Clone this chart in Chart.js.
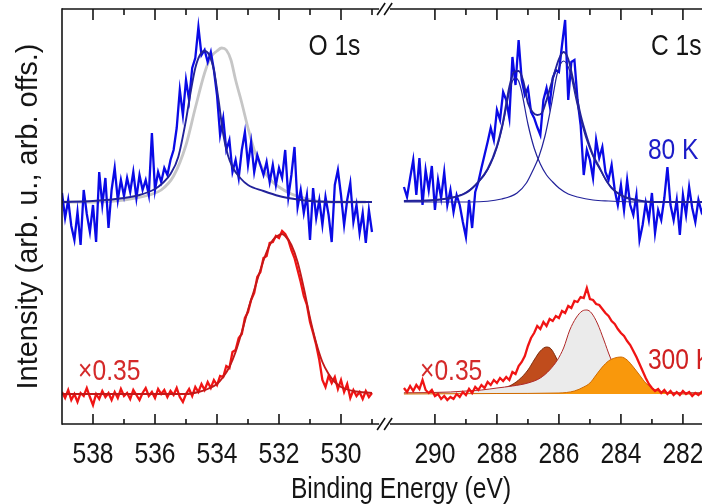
<!DOCTYPE html>
<html>
<head>
<meta charset="utf-8">
<script src="https://cdn.jsdelivr.net/npm/chart.js@4.4.1/dist/chart.umd.min.js"></script>
<style>
  html, body { margin: 0; padding: 0; background: #ffffff; overflow: hidden; }
  #wrap { width: 702px; height: 504px; overflow: hidden; position: relative; }
  canvas { display: block; }
</style>
</head>
<body>
<div id="wrap"><canvas id="c" width="740" height="504" style="width:740px;height:504px"></canvas></div>
<script>
// ---------------- DATA (binding energy in eV, intensity in arb. u. incl. offsets) ----------------
const o1sE = [539.0,538.9,538.8,538.7,538.6,538.5,538.4,538.3,538.2,538.1,
  538.0,537.9,537.8,537.7,537.6,537.5,537.4,537.3,537.2,537.1,
  537.0,536.9,536.8,536.7,536.6,536.5,536.4,536.3,536.2,536.1,
  536.0,535.9,535.8,535.7,535.6,535.5,535.4,535.3,535.2,535.1,
  535.0,534.9,534.8,534.7,534.6,534.5,534.4,534.3,534.2,534.1,
  534.0,533.9,533.8,533.7,533.6,533.5,533.4,533.3,533.2,533.1,
  533.0,532.9,532.8,532.7,532.6,532.5,532.4,532.3,532.2,532.1,
  532.0,531.9,531.8,531.7,531.6,531.5,531.4,531.3,531.2,531.1,
  531.0,530.9,530.8,530.7,530.6,530.5,530.4,530.3,530.2,530.1,
  530.0,529.9,529.8,529.7,529.6,529.5,529.4,529.3,529.2,529.1,529.0];
const o1s80K = [231,206,224,198,184,212,179,234,210,192,
  219,182,252,219,246,196,234,256,224,244,
  228,246,232,252,226,249,234,244,229,291,
  234,252,242,256,249,264,274,296,334,309,
  344,324,356,366,397,369,374,362,372,354,
  329,289,306,274,284,252,264,246,274,292,
  259,282,252,269,259,249,262,242,259,239,
  256,246,274,227,249,277,217,234,211,229,
  184,236,206,224,199,227,209,182,239,254,
  229,199,224,241,202,219,191,211,181,214,192];
const o1s300K = [32,26,34,24,30,22,31,28,36,27,
  19,30,25,33,27,31,24,32,26,35,
  28,31,25,34,29,24,31,36,28,32,
  26,35,30,34,27,33,29,36,27,22,
  30,35,28,37,32,40,34,42,36,44,
  39,48,47,58,56,72,74,86,90,106,
  112,124,131,147,152,166,168,181,182,188,
  186,193,190,184,174,166,154,142,128,119,
  102,91,79,64,44,37,48,41,47,35,
  44,32,40,26,34,28,32,25,33,27,31];
const o1sFit80E = [539,538,537,536.5,536,535.75,535.5,535.25,535.0,534.85,534.7,534.55,534.4,534.25,534.1,533.95,533.8,533.65,533.5,533.25,533.0,532.5,532,531.5,531,530,529];
const o1sFit80  = [222,223,226,229,235,241,250,267,304,332,356,369,373,369,354,324,290,269,257,246,239,233,228,225,223,222,222];
const o1sRefE = [539,538,537,536.2,535.8,535.4,535.0,534.7,534.4,534.2,534.0,533.85,533.7,533.55,533.4,533.2,533.0,532.8,532.6,532.3,532.0,531.6,531.2,530.8,530,529.2];
const o1sRef  = [222,222,224,229,234,248,279,316,351,367,373,376,374,364,344,321,296,274,259,245,237,230,226,223,222,222];
const o1sFit300E = [539,535,534.6,534.3,534.0,533.8,533.6,533.4,533.2,533.0,532.8,532.6,532.4,532.2,532.0,531.9,531.8,531.6,531.4,531.2,531.0,530.8,530.6,530.4,530.2,530.0,529.6,529.0];
const o1sFit300  = [30,30,32,35,40,47,57,72,92,114,134,154,172,184,189,190,188,179,162,136,106,81,62,50,42,37,33,31];

const c1sE = [291.0,290.9,290.8,290.7,290.6,290.5,290.4,290.3,290.2,290.1,
  290.0,289.9,289.8,289.7,289.6,289.5,289.4,289.3,289.2,289.1,
  289.0,288.9,288.8,288.7,288.6,288.5,288.4,288.3,288.2,288.1,
  288.0,287.9,287.8,287.7,287.6,287.5,287.4,287.3,287.2,287.1,
  287.0,286.9,286.8,286.7,286.6,286.5,286.4,286.3,286.2,286.1,
  286.0,285.9,285.8,285.7,285.6,285.5,285.4,285.3,285.2,285.1,
  285.0,284.9,284.8,284.7,284.6,284.5,284.4,284.3,284.2,284.1,
  284.0,283.9,283.8,283.7,283.6,283.5,283.4,283.3,283.2,283.1,
  283.0,282.9,282.8,282.7,282.6,282.5,282.4,282.3,282.2,282.1,
  282.0,281.9,281.8,281.7,281.6,281.5,281.4,281.3];
const c1s80K = [237,227,246,264,229,266,219,254,234,258,
  214,244,226,252,219,234,212,229,219,202,
  187,224,196,232,242,256,269,282,296,284,
  314,304,332,324,306,367,339,384,344,329,
  336,312,306,297,289,324,336,319,346,354,
  352,379,404,324,362,364,324,299,249,274,
  264,246,284,266,277,252,244,259,234,219,
  239,214,244,219,209,229,184,199,221,204,
  231,191,214,204,226,257,219,204,224,189,
  229,209,237,216,202,224,212,219];
const c1s300K = [36,32,38,33,39,35,44,34,31,34,
  28,30,25,28,24,27,25,30,27,32,
  29,35,31,37,34,39,36,42,39,44,
  41,46,43,47,44,52,50,58,62,68,
  78,86,91,98,95,102,98,105,103,108,
  106,113,111,118,116,123,122,127,126,136,
  125,124,120,119,115,111,108,103,100,95,
  91,88,83,79,73,67,60,53,46,40,
  36,33,35,31,34,30,33,29,32,29,
  33,30,32,28,31,29,32,30];
const c1sCompAE = [291.0,290.4,289.9,289.4,289.1,288.8,288.6,288.4,288.2,288.0,287.8,287.6,287.5,287.4,287.3,287.2,287.0,286.8,286.6,286.4,286.2,286.0,285.7,285.4,284.9,284.4,283.4,281.3];
const c1sCompA  = [223,223,224,227,230,236,242,249,260,276,300,332,343,346,343,332,300,276,260,249,242,236,230,227,224,223,222,222];
const c1sCompBE = [291.0,288.85,287.85,287.35,287.05,286.85,286.65,286.45,286.25,286.05,285.85,285.65,285.45,285.25,285.05,284.85,284.65,284.45,284.15,283.85,283.35,282.85,281.3];
const c1sCompB  = [222,222,225,231,241,253,267,288,318,351,363,353,325,299,279,264,253,242,232,226,223,222,222];
const c1sSumE = [291.0,290.0,289.5,289.0,288.6,288.3,288.0,287.8,287.6,287.45,287.3,287.15,287.0,286.85,286.7,286.55,286.4,286.2,286.0,285.85,285.7,285.5,285.3,285.1,284.9,284.7,284.5,284.3,284.0,283.5,283.0,282.0,281.3];
const c1sSum  = [223,224,226,231,242,255,278,303,337,352,353,343,321,312,309,311,324,345,365,372,365,338,309,287,269,257,245,236,229,224,222,222,222];
const c1sBrownE = [291.0,289.5,289.0,288.5,288.0,287.6,287.3,287.0,286.8,286.6,286.4,286.25,286.1,285.9,285.7,285.5,285.2,284.5,281.3];
const c1sBrown  = [31,31,32,33,35,38,44,54,64,73,77,75,67,53,42,36,33,31,31];
const c1sGrayE = [291.0,289.5,289.0,288.5,288.0,287.5,287.0,286.6,286.3,286.05,285.85,285.65,285.45,285.25,285.1,284.95,284.75,284.55,284.35,284.15,283.95,283.7,283.4,283.0,282.0,281.3];
const c1sGray  = [31,32,33,34,36,38,41,46,54,64,76,94,106,113,114,111,100,84,67,54,44,37,34,32,31,31];
const c1sOrangeE = [291.0,288.0,286.0,285.5,285.2,285.0,284.8,284.6,284.4,284.2,284.0,283.8,283.6,283.4,283.2,283.0,282.8,282.5,282.0,281.3];
const c1sOrange  = [30,30.5,31,33,37,41,49,57,63,66,67,64,57,49,41,36,33,31,30,30];

// axis ticks (eV)
const o1sMajorTicks = [538,536,534,532,530];
const o1sMinorTicks = [537,535,533,531,529];
const c1sMajorTicks = [290,288,286,284,282];
const c1sMinorTicks = [289,287,285,283,281];
const xTitle = 'Binding Energy (eV)';
const yTitle = 'Intensity (arb. u., arb. offs.)';
const fillBase = 30;

// ---------------- broken energy axis ----------------
const O_REF = 539;
const C_REF = 302.03;
const uO = e => O_REF - e;
const uC = e => C_REF - e;
const U_SPLIT = 10.4;
const BREAK_U = [10.23, 10.58];

const pts = (E, V, f) => E.map((e, i) => ({x: f(e), y: V[i]}));

const FONT = "'Liberation Sans', Arial, Helvetica, sans-serif";
const SX = 0.82;  // horizontal squeeze of upright text (figure is vertically stretched)
const BLUE = '#0a0ae6', NAVY = '#22229a', RED = '#f01414', DRED = '#c41818';

function line(data, color, width, order, extra) {
  return Object.assign({data, borderColor: color, borderWidth: width, pointRadius: 0,
    fill: false, tension: 0, order}, extra || {});
}
const smooth = {cubicInterpolationMode: 'monotone'};

const datasets = [
  line(pts(o1sRefE, o1sRef, uO), '#c6c6c6', 2.8, 2, smooth),
  line(pts(o1sE, o1s80K, uO), BLUE, 2.3, 1),
  line(pts(o1sFit80E, o1sFit80, uO), NAVY, 1.9, 0, smooth),
  line(pts(o1sE, o1s300K, uO), RED, 2.3, 1),
  line(pts(o1sFit300E, o1sFit300, uO), DRED, 1.9, 0, smooth),

  line(pts(c1sBrownE, c1sBrown, uC), '#7e2c0c', 1, 5, Object.assign({fill: {value: fillBase}, backgroundColor: '#c04c1c'}, smooth)),
  line(pts(c1sGrayE, c1sGray, uC), '#b02828', 1, 4, Object.assign({fill: {value: fillBase}, backgroundColor: '#ebebeb'}, smooth)),
  line(pts(c1sOrangeE, c1sOrange, uC), '#cf6a00', 1, 3, Object.assign({fill: {value: fillBase}, backgroundColor: '#f9980c'}, smooth)),
  line(pts(c1sE, c1s300K, uC), RED, 2.3, 1),

  line(pts(c1sE, c1s80K, uC), BLUE, 2.3, 1),
  line(pts(c1sCompAE, c1sCompA, uC), NAVY, 1.2, 0, smooth),
  line(pts(c1sCompBE, c1sCompB, uC), NAVY, 1.2, 0, smooth),
  line(pts(c1sSumE, c1sSum, uC), NAVY, 1.9, 0, smooth)
];

function squeezedText(ctx, text, x, y, align) {
  ctx.save();
  ctx.translate(x, y);
  ctx.scale(SX, 1);
  ctx.textAlign = align;
  ctx.textBaseline = 'alphabetic';
  ctx.fillText(text, 0, 0);
  ctx.restore();
}

const framePlugin = {
  id: 'frame',
  afterDraw(chart) {
    const {ctx, chartArea: a, scales: {x}} = chart;
    ctx.save();
    ctx.strokeStyle = '#151515';
    ctx.lineWidth = 1.6;
    ctx.lineCap = 'butt';
    const bL = x.getPixelForValue(BREAK_U[0]);
    const bR = x.getPixelForValue(BREAK_U[1]);
    ctx.beginPath(); ctx.moveTo(a.left, a.top - 0.8); ctx.lineTo(a.left, a.bottom + 0.8); ctx.stroke();
    for (const yy of [a.top, a.bottom]) {
      ctx.beginPath();
      ctx.moveTo(a.left, yy); ctx.lineTo(bL, yy);
      ctx.moveTo(bR, yy); ctx.lineTo(a.right, yy);
      ctx.stroke();
      ctx.beginPath();
      ctx.moveTo(bL - 2, yy + 6); ctx.lineTo(bL + 6, yy - 6);
      ctx.moveTo(bL + 5, yy + 6); ctx.lineTo(bL + 13, yy - 6);
      ctx.stroke();
    }
    const drawTick = (u, lenB, lenT) => {
      const px = x.getPixelForValue(u);
      ctx.beginPath();
      ctx.moveTo(px, a.bottom); ctx.lineTo(px, a.bottom - lenB);
      ctx.moveTo(px, a.top); ctx.lineTo(px, a.top + lenT);
      ctx.stroke();
    };
    o1sMajorTicks.forEach(e => drawTick(uO(e), 10, 11));
    c1sMajorTicks.forEach(e => drawTick(uC(e), 10, 11));
    o1sMinorTicks.forEach(e => drawTick(uO(e), 5, 6));
    c1sMinorTicks.forEach(e => drawTick(uC(e), 5, 6));

    // tick labels (from the x scale's ticks) and axis title
    ctx.fillStyle = '#151515';
    ctx.font = '30px ' + FONT;
    x.ticks.forEach(t => {
      squeezedText(ctx, x.options.ticks.callback(t.value), x.getPixelForValue(t.value), a.bottom + 38.5, 'center');
    });
    squeezedText(ctx, xTitle, (a.left + a.right) / 2, 498, 'center');
    ctx.restore();
  }
};

const labelPlugin = {
  id: 'labels',
  afterDraw(chart) {
    const {ctx, scales: {x, y}} = chart;
    const items = [
      {t: 'O 1s',  u: uO(531.05), v: 369, c: '#151515'},
      {t: 'C 1s',  u: uC(283.03), v: 369, c: '#151515'},
      {t: '80 K',  u: uC(283.13), v: 265, c: '#1c1cc8'},
      {t: '300 K', u: uC(283.13), v: 55,  c: '#d02020'},
      {t: '\u00d70.35', u: uO(538.48), v: 44, c: '#d42a2a'},
      {t: '\u00d70.35', u: uC(290.48), v: 44, c: '#d42a2a'}
    ];
    ctx.save();
    ctx.font = '30px ' + FONT;
    for (const it of items) {
      ctx.fillStyle = it.c;
      squeezedText(ctx, it.t, x.getPixelForValue(it.u), y.getPixelForValue(it.v), 'left');
    }
    ctx.restore();
  }
};

new Chart(document.getElementById('c'), {
  type: 'line',
  data: {datasets},
  options: {
    responsive: false,
    animation: false,
    layout: {padding: {top: 9, left: 0, right: 0, bottom: 0}},
    plugins: {legend: {display: false}, tooltip: {enabled: false}},
    elements: {point: {radius: 0}},
    scales: {
      x: {
        type: 'linear', position: 'bottom', min: 0, max: (740 - 62) / 31,
        grid: {display: false, drawTicks: false},
        border: {display: false},
        afterBuildTicks(s) {
          s.ticks = o1sMajorTicks.map(e => ({value: uO(e)})).concat(c1sMajorTicks.map(e => ({value: uC(e)})));
        },
        ticks: {
          display: false, autoSkip: false,
          callback: v => String(Math.round(v < U_SPLIT ? O_REF - v : C_REF - v))
        },
        title: {display: false, text: xTitle},
        afterFit(s) { s.height = 80; }
      },
      y: {
        min: 0, max: 415,
        grid: {display: false, drawTicks: false},
        border: {display: false},
        ticks: {display: false},
        title: {display: true, text: yTitle, color: '#151515',
          font: {family: FONT, size: 29, lineHeight: 1.2}, padding: {top: 12, bottom: 0}},
        afterFit(s) { s.width = 62; }
      }
    }
  },
  plugins: [framePlugin, labelPlugin]
});
</script>
</body>
</html>
